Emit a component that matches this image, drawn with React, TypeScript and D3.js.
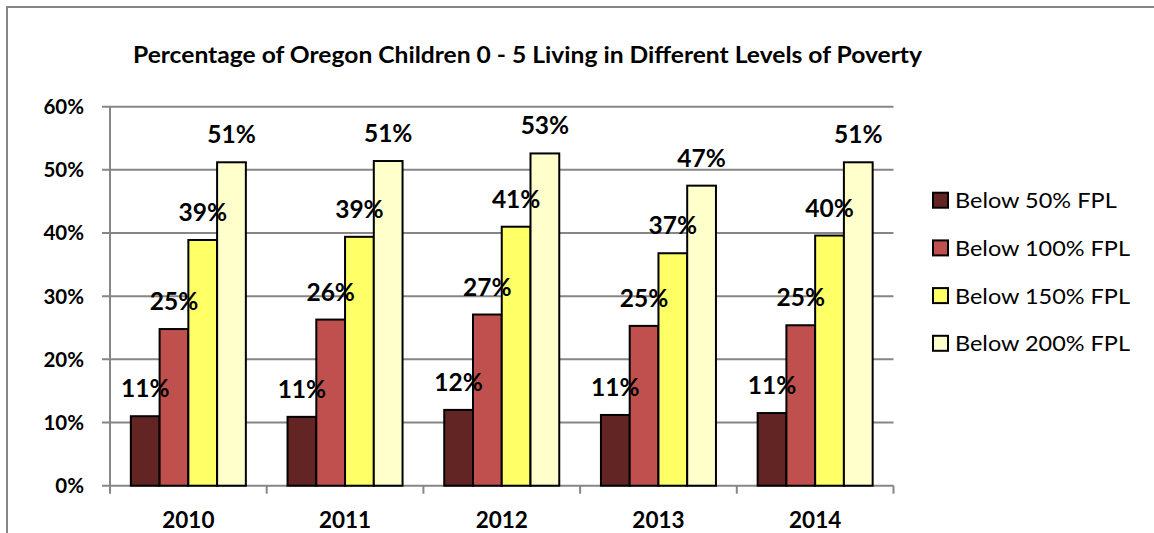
import React from "react";
import * as d3 from "d3";

const years = ["2010", "2011", "2012", "2013", "2014"];
const seriesNames = ["Below 50% FPL", "Below 100% FPL", "Below 150% FPL", "Below 200% FPL"];
const below50 = [11.0, 10.9, 12.0, 11.2, 11.5];
const below100 = [24.8, 26.3, 27.1, 25.3, 25.4];
const below150 = [38.9, 39.4, 41.0, 36.8, 39.6];
const below200 = [51.2, 51.4, 52.6, 47.5, 51.2];
const seriesValues = [below50, below100, below150, below200];
const labels50 = ["11%", "11%", "12%", "11%", "11%"];
const labels100 = ["25%", "26%", "27%", "25%", "25%"];
const labels150 = ["39%", "39%", "41%", "37%", "40%"];
const labels200 = ["51%", "51%", "53%", "47%", "51%"];
const seriesLabels = [labels50, labels100, labels150, labels200];
const colors = ["#632523", "#C0504D", "#FFFF66", "#FFFFCC"];
const yTicks = [0, 10, 20, 30, 40, 50, 60];
const title = "Percentage of Oregon Children 0 - 5 Living in Different Levels of Poverty";

const W = 1154;
const H = 533;
const FONT = "Lato, 'Open Sans', sans-serif";

export default function App() {
  const x0 = d3.scaleBand<string>().domain(years).range([110, 893.5]).paddingInner(0).paddingOuter(0);
  const x1 = d3
    .scaleBand<string>()
    .domain(seriesNames)
    .range([0, x0.bandwidth()])
    .paddingInner(0)
    .paddingOuter(0.725);
  const y = d3.scaleLinear().domain([0, 60]).range([485.7, 106.7]);
  const grid = "#868686";
  const legendWidths = [161.7, 175, 175, 175];

  return (
    <svg
      width={W}
      height={H}
      style={{ position: "absolute", left: 0, top: 0, background: "#fff" }}
      fontFamily={FONT}
    >
      <rect x={0} y={0} width={W} height={H} fill="#fff" />
      <rect x={7} y={7} width={W + 20} height={H + 20} fill="none" stroke={grid} strokeWidth={2} />
      <text x={527.5} y={63} textAnchor="middle" fontWeight="bold" fontSize={22.5} textLength={789} lengthAdjust="spacingAndGlyphs">
        {title}
      </text>
      {yTicks.map((t) => (
        <g key={t}>
          <line x1={102} x2={893.5} y1={y(t)} y2={y(t)} stroke={grid} strokeWidth={2} />
          <text x={84} y={y(t) + 7.3} textAnchor="end" fontWeight="bold" fontSize={20.5}>
            {t}%
          </text>
        </g>
      ))}
      <line x1={110} x2={110} y1={y(60)} y2={y(0) + 8} stroke={grid} strokeWidth={2} />
      {years.map((yr, i) => (
        <line key={"t" + i} x1={x0(yr)! + x0.bandwidth()} x2={x0(yr)! + x0.bandwidth()} y1={y(0)} y2={y(0) + 8} stroke={grid} strokeWidth={2} />
      ))}
      {years.map((yr) => (
        <text key={"xl" + yr} x={x0(yr)! + x0.bandwidth() / 2} y={528.4} textAnchor="middle" fontWeight="bold" fontSize={22.5}>
          {yr}
        </text>
      ))}
      {seriesNames.map((s, si) =>
        years.map((yr, i) => {
          const v = seriesValues[si][i];
          const bx = x0(yr)! + x1(s)!;
          return (
            <rect
              key={s + yr}
              x={bx}
              y={y(v)}
              width={x1.bandwidth()}
              height={y(0) - y(v)}
              fill={colors[si]}
              stroke="#000"
              strokeWidth={2}
            />
          );
        })
      )}
      {seriesNames.map((s, si) =>
        years.map((yr, i) => {
          const v = seriesValues[si][i];
          const cx = x0(yr)! + x1(s)! + x1.bandwidth() / 2;
          return (
            <text key={"l" + s + yr} x={cx} y={y(v) - 19} textAnchor="middle" fontWeight="bold" fontSize={24.5}>
              {seriesLabels[si][i]}
            </text>
          );
        })
      )}
      {seriesNames.map((s, si) => {
        const top = 192.7 + si * 47.7;
        return (
          <g key={"lg" + s}>
            <rect x={933} y={top} width={15} height={15} fill={colors[si]} stroke="#000" strokeWidth={2} />
            <text x={955} y={top + 15.6} fontSize={22} textLength={legendWidths[si]} lengthAdjust="spacingAndGlyphs">
              {s}
            </text>
          </g>
        );
      })}
    </svg>
  );
}
